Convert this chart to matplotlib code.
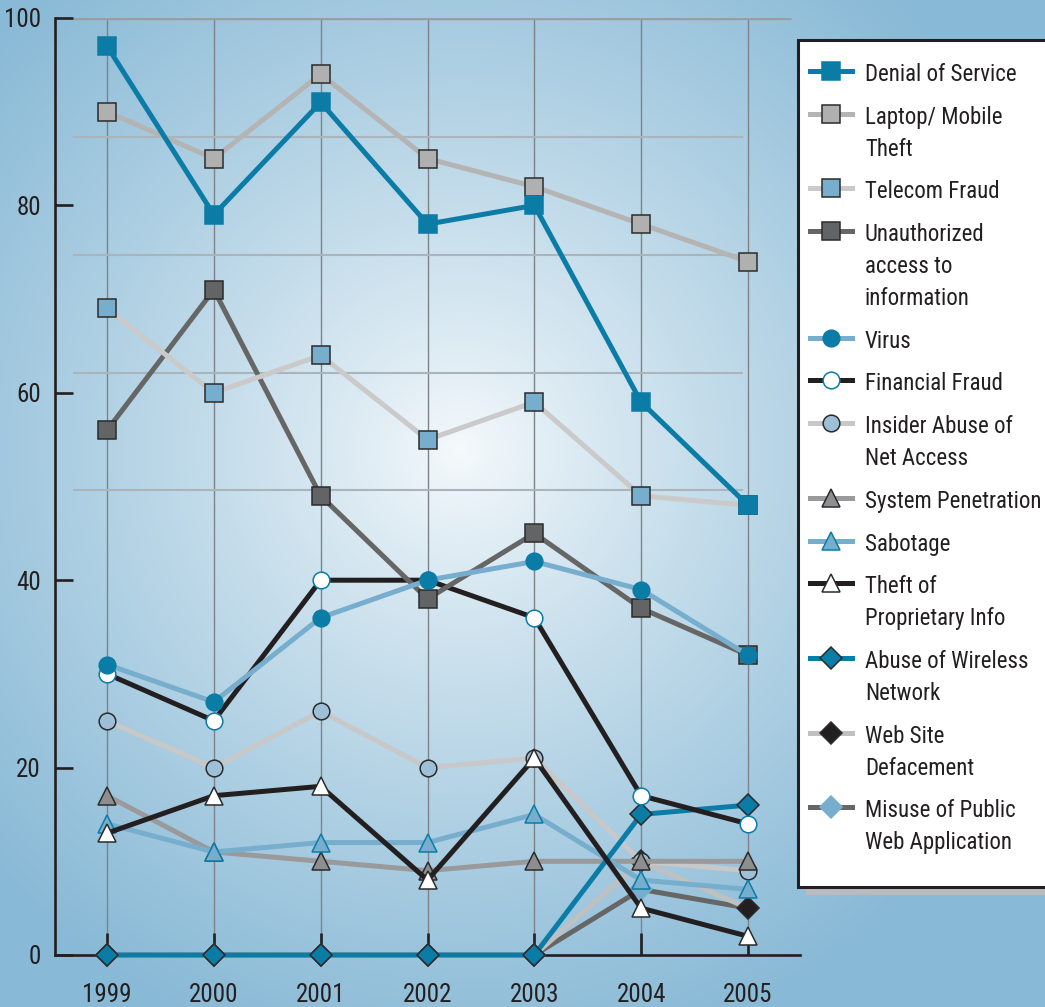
import numpy as np
import matplotlib
matplotlib.use("Agg")
import matplotlib.pyplot as plt
from matplotlib.lines import Line2D
from matplotlib.patches import Rectangle
from matplotlib.colors import to_rgb

plt.rcParams['font.family'] = ['Roboto Condensed', 'DejaVu Sans Condensed', 'DejaVu Sans']
plt.rcParams['font.stretch'] = 'condensed'

# === Daten ===
years = [1999, 2000, 2001, 2002, 2003, 2004, 2005]

denial_of_service = [97, 79, 91, 78, 80, 59, 48]
laptop_theft = [90, 85, 94, 85, 82, 78, 74]
telecom_fraud = [69, 60, 64, 55, 59, 49, 48]
unauthorized_access = [56, 71, 49, 38, 45, 37, 32]
virus = [31, 27, 36, 40, 42, 39, 32]
financial_fraud = [30, 25, 40, 40, 36, 17, 14]
insider_abuse = [25, 20, 26, 20, 21, 10, 9]
system_penetration = [17, 11, 10, 9, 10, 10, 10]
sabotage = [14, 11, 12, 12, 15, 8, 7]
theft_prop_info = [13, 17, 18, 8, 21, 5, 2]
wireless_abuse = [0, 0, 0, 0, 0, 15, 16]
web_defacement = [0, 0, 0, 0, 0, 10, 5]
web_app_misuse = [0, 0, 0, 0, 0, 7, 5]

labels = ["Denial of Service", "Laptop/ Mobile\nTheft", "Telecom Fraud",
          "Unauthorized\naccess to\ninformation", "Virus", "Financial Fraud",
          "Insider Abuse of\nNet Access", "System Penetration", "Sabotage",
          "Theft of\nProprietary Info", "Abuse of Wireless\nNetwork",
          "Web Site\nDefacement", "Misuse of Public\nWeb Application"]
series = [denial_of_service, laptop_theft, telecom_fraud, unauthorized_access,
          virus, financial_fraud, insider_abuse, system_penetration, sabotage,
          theft_prop_info, wireless_abuse, web_defacement, web_app_misuse]
y_ticks = [0, 20, 40, 60, 80, 100]
deco_lines = [87.3, 74.7, 62.1, 49.6]

# === Stil ===
TEAL = "#0b7ca6"
LBLUE = "#78aecd"
BLACK = "#231f20"
EDGE = "#2b2b2b"
# (linecolor, marker, size, face, edge, zorder)
styles = [
    (TEAL, "s", 12.5, TEAL, TEAL, 23),
    ("#b4b4b4", "s", 12.5, "#b0b0b0", EDGE, 22),
    ("#cacaca", "s", 12.5, LBLUE, EDGE, 21),
    ("#666666", "s", 12.5, "#636466", EDGE, 18),
    (LBLUE, "o", 12, TEAL, TEAL, 20),
    (BLACK, "o", 12, "white", TEAL, 17),
    ("#c8c8c8", "o", 12, "#9dbfd8", EDGE, 12),
    ("#9a9a9c", "^", 13, "#8e8e90", EDGE, 13),
    (LBLUE, "^", 13, LBLUE, TEAL, 14),
    (BLACK, "^", 13, "white", EDGE, 16),
    (TEAL, "D", 11.5, TEAL, EDGE, 15),
    ("#c0c0c0", "D", 11.5, BLACK, EDGE, 11),
    ("#666666", "D", 11.5, LBLUE, LBLUE, 10),
]

W, H = 1045, 1007
fig = plt.figure(figsize=(W / 100, H / 100), dpi=100)


def fx(x):
    return x / W


def fy(y):
    return 1 - y / H


# === Hintergrund (radialer Verlauf) ===
gx, gy = np.meshgrid(np.arange(W), np.arange(H))
r = np.sqrt((gx - 460) ** 2 + (gy - 450) ** 2)
t = np.clip(r / 630, 0, 1) ** 0.85
c_in = np.array(to_rgb("#f6fafc"))
c_out = np.array(to_rgb("#88b9d6"))
img = c_in[None, None, :] * (1 - t[..., None]) + c_out[None, None, :] * t[..., None]
bg = fig.add_axes([0, 0, 1, 1], zorder=-10)
bg.imshow(img, extent=[0, W, H, 0], aspect="auto")
bg.axis("off")

# === Diagramm ===
ax = fig.add_axes([fx(55), fy(955), (800 - 55) / W, (955 - 18) / H])
ax.set_facecolor("none")
step = 106.8
ax.set_xlim(1999 - 52 / step, 2005 + 52 / step)
ax.set_ylim(0, 100)

ax.vlines(years, 0, 100, color="#7d8388", lw=1.0, zorder=1)
ax.hlines(deco_lines, 1999 - 34 / step, 2005 - 5 / step, color="#a9b4bb", lw=1.5, zorder=1)
ax.hlines(100, 1999 - 34 / step, 2005 + 43 / step, color="#9a9ea2", lw=2.5, zorder=1)

for vals, (lc, m, ms, fc, ec, z) in zip(series, styles):
    ax.plot(years, vals, color=lc, lw=3.6, marker=m, ms=ms, mfc=fc, mec=ec,
            mew=1.1, zorder=z, clip_on=False)

for s in ["top", "right"]:
    ax.spines[s].set_visible(False)
for s in ["left", "bottom"]:
    ax.spines[s].set_color(BLACK)
    ax.spines[s].set_linewidth(1.9)

ax.set_xticks(years)
ax.set_xticklabels([str(y) for y in years])
ax.set_yticks(y_ticks)
ax.tick_params(axis="y", direction="in", length=13, width=1.9, colors=BLACK,
               labelsize=18, pad=10)
ax.tick_params(axis="x", direction="in", length=16, width=1.9, colors=BLACK,
               labelsize=18, pad=20)

# === Legende ===
fig.add_artist(Rectangle((fx(806), fy(895)), 300 / W, (895 - 48) / H,
                         transform=fig.transFigure, facecolor="#b9bcbf",
                         edgecolor="none", zorder=5))
fig.add_artist(Rectangle((fx(798), fy(887)), 300 / W, (887 - 40) / H,
                         transform=fig.transFigure, facecolor="white",
                         edgecolor=BLACK, lw=2.2, zorder=6))

y = 71
for lab, (lc, m, ms, fc, ec, z) in zip(labels, styles):
    fig.add_artist(Line2D([fx(810), fx(852)], [fy(y), fy(y)], color=lc, lw=3.6,
                          transform=fig.transFigure, zorder=7))
    fig.add_artist(Line2D([fx(831)], [fy(y)], marker=m, ms=ms, mfc=fc, mec=ec,
                          mew=1.1, ls="none", transform=fig.transFigure, zorder=8))
    lines = lab.split("\n")
    for k, line in enumerate(lines):
        fig.text(fx(865), fy(y + k * 32 + 10), line, fontsize=16.5, color=BLACK,
                 va="baseline", ha="left", zorder=9)
    y += len(lines) * 32 + 10.7

fig.savefig("out.png", dpi=100)
